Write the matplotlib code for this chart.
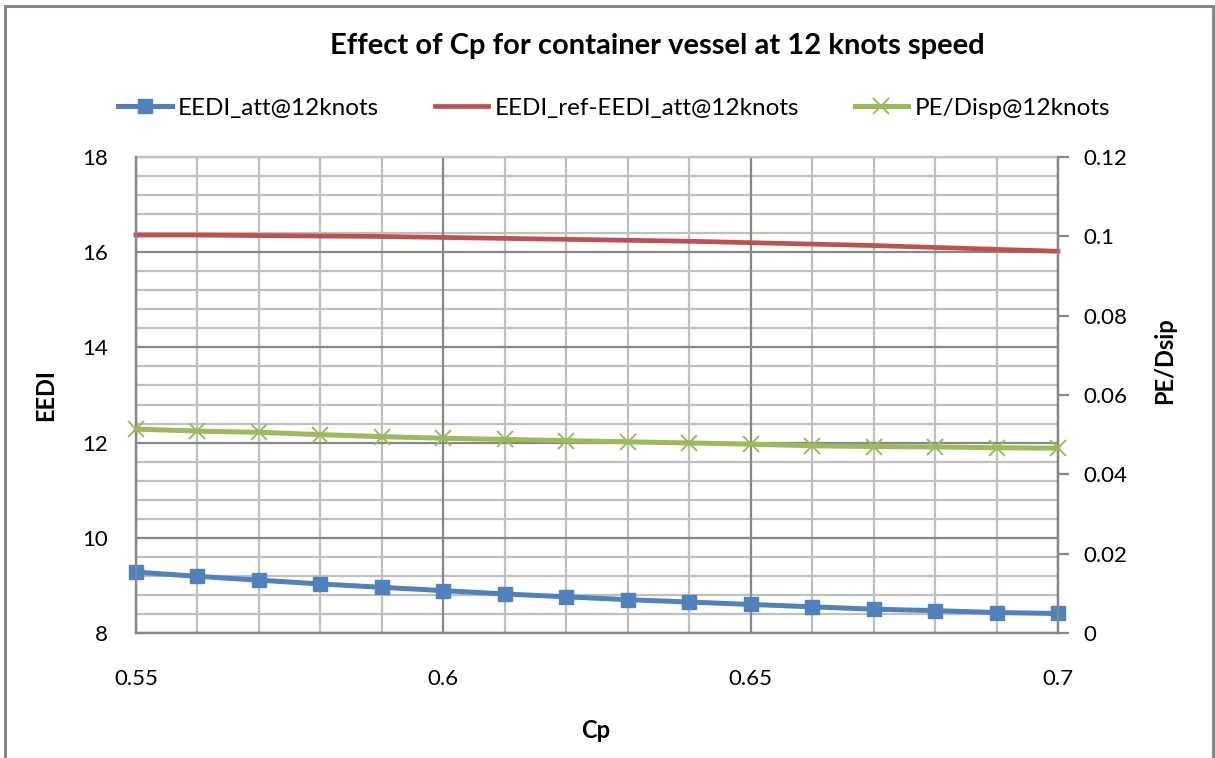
import matplotlib
matplotlib.use("Agg")
import matplotlib.pyplot as plt
from matplotlib.ticker import FixedLocator, FuncFormatter, MultipleLocator
from matplotlib.patches import Rectangle

plt.rcParams['font.family'] = ['Lato', 'DejaVu Sans']

# Prismatic coefficient values
cp = [0.55, 0.56, 0.57, 0.58, 0.59, 0.60, 0.61, 0.62,
      0.63, 0.64, 0.65, 0.66, 0.67, 0.68, 0.69, 0.70]

# Attained EEDI at 12 knots
eedi_att = [9.28, 9.19, 9.11, 9.03, 8.96, 8.89, 8.82, 8.76,
            8.70, 8.65, 8.60, 8.55, 8.50, 8.47, 8.43, 8.41]

# Margin between reference line and attained EEDI
eedi_margin = [16.36, 16.36, 16.35, 16.34, 16.33, 16.31, 16.29, 16.27,
               16.25, 16.23, 16.20, 16.17, 16.14, 16.10, 16.06, 16.02]

# Effective power per displacement
pe_disp = [0.0514, 0.0509, 0.0506, 0.0500, 0.0495, 0.0491, 0.0488, 0.0485,
           0.0482, 0.0479, 0.0476, 0.0472, 0.0470, 0.0469, 0.0467, 0.0466]

title = "Effect of Cp for container vessel at 12 knots speed"
labels = ["EEDI_att@12knots", "EEDI_ref-EEDI_att@12knots", "PE/Disp@12knots"]

BLUE = "#4F81BD"
RED = "#C0504D"
GREEN = "#9BBB59"
MINOR = "#BFBFBF"
MAJOR = "#878787"

fig = plt.figure(figsize=(12.15, 7.58), dpi=100)
W, H = 1215, 758
ax = fig.add_axes([136 / W, 1 - 633 / H, (1058 - 136) / W, (633 - 157) / H])
ax2 = ax.twinx()

ax.set_xlim(0.55, 0.70)
ax.set_ylim(8, 18)
ax2.set_ylim(0, 0.12)

# gridlines: light every 0.01 / 0.4, darker at labelled values
for x in cp:
    major = abs(round(x * 100) % 5) == 0
    ax.axvline(x, color=MAJOR if major else MINOR, lw=1.6, zorder=0.5 if major else 0.4)
for i in range(26):
    y = 8 + 0.4 * i
    major = i % 5 == 0
    ax.axhline(y, color=MAJOR if major else MINOR, lw=1.6, zorder=0.5 if major else 0.4)

l1, = ax.plot(cp, eedi_att, color=BLUE, lw=3.6, marker='s', markersize=10,
              markerfacecolor=BLUE, markeredgecolor=BLUE, zorder=3, clip_on=False)
l2, = ax.plot(cp, eedi_margin, color=RED, lw=3.4, zorder=3, clip_on=False)
l3, = ax2.plot(cp, pe_disp, color=GREEN, lw=3.6, marker='x', markersize=11,
               markeredgewidth=1.4, markeredgecolor=GREEN, zorder=3, clip_on=False)

fmt = FuncFormatter(lambda v, p: f"{v:g}")
ax.xaxis.set_major_locator(FixedLocator([0.55, 0.60, 0.65, 0.70]))
ax.xaxis.set_major_formatter(fmt)
ax.yaxis.set_major_locator(MultipleLocator(2))
ax.yaxis.set_major_formatter(fmt)
ax2.yaxis.set_major_locator(FixedLocator([0, 0.02, 0.04, 0.06, 0.08, 0.10, 0.12]))
ax2.yaxis.set_major_formatter(fmt)

ax.tick_params(axis='x', length=0, pad=26, labelsize=16)
ax.tick_params(axis='y', length=0, pad=20, labelsize=16)
ax2.tick_params(axis='y', length=8, width=1.6, color=MAJOR, direction='out',
                pad=10, labelsize=16)

for a in (ax, ax2):
    for s in a.spines.values():
        s.set_color(MAJOR)
        s.set_linewidth(1.6)
ax2.spines['top'].set_visible(False)
ax.spines['top'].set_color(MINOR)

# axis titles
fig.text(596 / W, 1 - 731 / H, "Cp", ha='center', va='center',
         fontsize=17, fontweight='bold')
fig.text(46 / W, 1 - 395 / H, "EEDI", ha='center', va='center', rotation=90,
         fontsize=17, fontweight='bold')
fig.text(1165 / W, 1 - 361 / H, "PE/Dsip", ha='center', va='center', rotation=90,
         fontsize=17, fontweight='bold')

fig.text(657 / W, 1 - 46 / H, title, ha='center', va='center',
         fontsize=21, fontweight='bold')

fig.legend([l1, l2, l3], labels, loc='center', ncol=3,
           bbox_to_anchor=(614 / W, 1 - 108 / H), frameon=False, fontsize=17.5,
           handlelength=2.2, handletextpad=0.25, columnspacing=2.3, markerscale=1.0)

# chart border
fig.patches.append(Rectangle((5 / W, -0.05), (1213 - 5) / W, 1.05 - 6 / H,
                             transform=fig.transFigure, fill=False,
                             edgecolor="#878787", lw=2.2))

fig.savefig("out.png", dpi=100)
